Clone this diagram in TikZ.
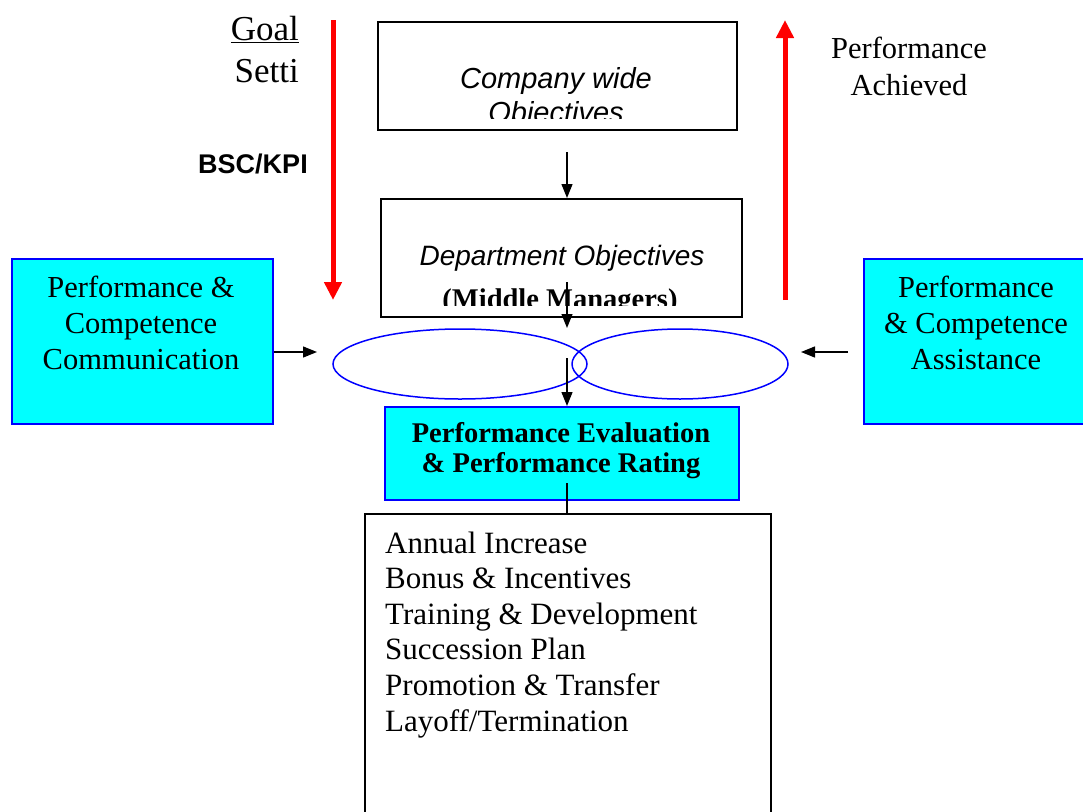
\documentclass[tikz,border=0pt]{standalone}
\usepackage{fontspec}
\setmainfont{Liberation Serif}
\setsansfont{Liberation Sans}
\usetikzlibrary{arrows.meta,shapes.geometric}
\definecolor{cyanfill}{RGB}{0,255,255}
\definecolor{bluedge}{RGB}{0,0,255}
\definecolor{redarr}{RGB}{255,0,0}
\begin{document}
\begin{tikzpicture}[x=1pt,y=-1pt,
  plainbox/.style={draw=black, line width=1.6pt, inner sep=0pt, anchor=north west},
  cyanbox/.style={draw=bluedge, fill=cyanfill, line width=1.5pt, inner sep=0pt, anchor=north west},
  arr/.style={draw=black, line width=1.3pt, -{Triangle[length=14pt,width=11pt]}},
  plainline/.style={draw=black, line width=1.3pt},
  redarrow/.style={draw=redarr, line width=5pt, -{Triangle[length=18pt,width=17pt]}},
  oval/.style={ellipse, draw=bluedge, line width=1.5pt, inner sep=0pt},
  sertxt/.style={font=\fontsize{30.5}{36}\selectfont, inner sep=0pt, anchor=base, align=center},
  listtxt/.style={font=\fontsize{31}{35.6}\selectfont, inner sep=0pt, anchor=base west, align=left},
  itsans/.style={font=\sffamily\itshape\fontsize{28}{33.5}\selectfont, inner sep=0pt, anchor=base, align=center},
  boldser/.style={font=\bfseries\fontsize{28.5}{30}\selectfont, inner sep=0pt, anchor=base, align=center}
]
\path[use as bounding box] (0,0) rectangle (1083,811);
\clip (0,0) rectangle (1083,811);

% boxes
\node[plainbox, minimum width=359pt, minimum height=108pt] (company) at (377,21) {};
\node[plainbox, minimum width=361pt, minimum height=118pt] (dept) at (380,198) {};
\node[cyanbox, minimum width=261pt, minimum height=165pt] (leftbox) at (11,258) {};
\node[cyanbox, minimum width=240pt, minimum height=165pt] (rightbox) at (863,258) {};
\node[cyanbox, minimum width=354pt, minimum height=93pt] (eval) at (384,406) {};
\node[plainbox, minimum width=406pt, minimum height=340pt] (list) at (364,513) {};

% texts (multi-line nodes: base anchor = last line's baseline)
\node[anchor=base east, inner sep=0pt, font=\fontsize{35}{42}\selectfont] (goal) at (299,40) {\underline{Goal}};
\node[anchor=base east, inner sep=0pt, font=\fontsize{35}{42}\selectfont] (setti) at (299,82) {Setti};
\node[anchor=base, inner sep=0pt, font=\sffamily\bfseries\fontsize{27}{31}\selectfont] (bsc) at (253,173) {BSC/KPI};
\node[sertxt, font=\fontsize{30.5}{37}\selectfont] (achieved) at (909,95) {Performance\\Achieved};
\begin{scope}
  \clip (378,22) rectangle (735,118);
  \node[itsans, font=\sffamily\itshape\fontsize{29}{34}\selectfont] (companytxt) at (556,122) {Company wide\\Objectives};
\end{scope}
\node[itsans] (depttxt) at (562,265) {Department Objectives};
\begin{scope}
  \clip (381,199) rectangle (740,305);
  \node[boldser] (mgrtxt) at (560,308) {(Middle Managers)};
\end{scope}
\node[sertxt] (lefttxt) at (141,369) {Performance \&\\Competence\\Communication};
\node[sertxt] (righttxt) at (976,369) {Performance\\\& Competence\\Assistance};
\node[boldser] (evaltxt) at (561,472) {Performance Evaluation\\\& Performance Rating};
\node[listtxt] (listtxt) at (385,731) {Annual Increase\\Bonus \& Incentives\\Training \& Development\\Succession Plan\\Promotion \& Transfer\\Layoff/Termination};

% ovals
\node[oval, minimum width=254pt, minimum height=70pt] (ovalL) at (460,364) {};
\node[oval, minimum width=216pt, minimum height=70pt] (ovalR) at (680,364) {};

% connector coordinates
\coordinate (r1s) at (333,20);
\coordinate (r1e) at (333,300);
\coordinate (r2s) at (785,300);
\coordinate (r2e) at (785,20);
\coordinate (a1s) at (567,152);
\coordinate (a2s) at (567,282);
\coordinate (a2e) at (567,328);
\coordinate (a3s) at (567,358);
\coordinate (a4s) at (567,483);
\coordinate (hl) at (317,352);
\coordinate (hrs) at (848,352);
\coordinate (hr) at (801,352);

% connectors
\draw[redarrow] (r1s) -- (r1e);
\draw[redarrow] (r2s) -- (r2e);
\draw[arr] (a1s) -- (a1s |- dept.north);
\draw[arr] (a2s) -- (a2e);
\draw[arr] (a3s) -- (a3s |- eval.north);
\draw[plainline] (a4s) -- (a4s |- list.north);
\draw[arr] (leftbox.east |- hl) -- (hl);
\draw[arr] (hrs) -- (hr);
\end{tikzpicture}
\end{document}
